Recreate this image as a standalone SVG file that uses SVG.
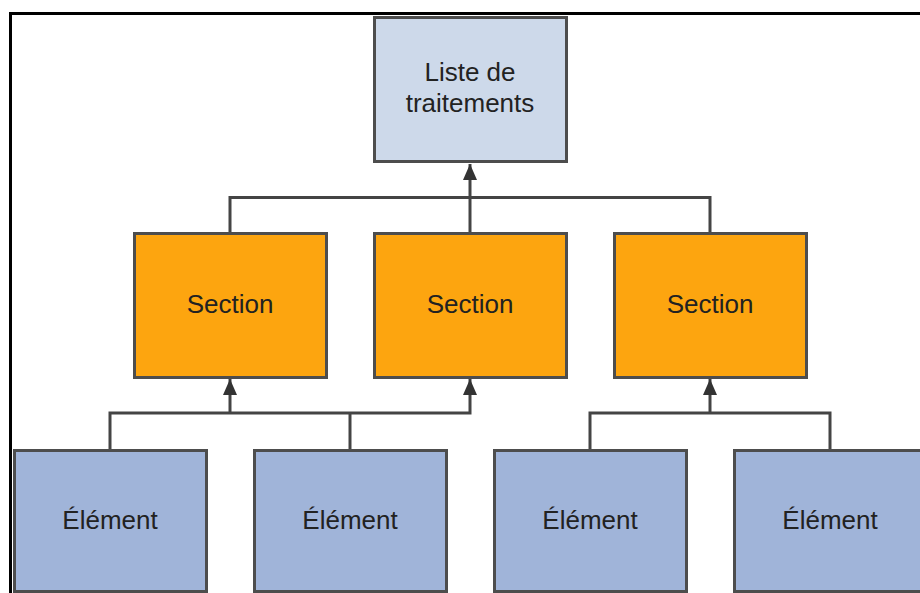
<svg xmlns="http://www.w3.org/2000/svg" width="920" height="593" viewBox="0 0 920 593">
<style>
.box{stroke:#4d4d4d;stroke-width:3}
.top{fill:#cdd9ea}
.sec{fill:#fda50f}
.el{fill:#a0b4d9}
.lbl{font-family:"Liberation Sans",Arial,sans-serif;font-size:26px;fill:#222;text-anchor:middle}
.con{fill:none;stroke:#444;stroke-width:3}
</style>
<defs>
<marker id="arr" markerUnits="userSpaceOnUse" markerWidth="16" markerHeight="18" refX="16" refY="7" orient="auto">
<path d="M0,0 L16,7 L0,14 Z" fill="#333"/>
</marker>
</defs>
<rect width="920" height="593" fill="#fff"/>
<path d="M10.5,600 V13.5 H930" fill="none" stroke="#000" stroke-width="3"/>
<g id="connectors">
<path class="con" d="M230,233 V197.5 H710 V233"/>
<path class="con" d="M470,233 V164" marker-end="url(#arr)"/>
<path class="con" d="M110,450 V413 H470 V379" marker-end="url(#arr)"/>
<path class="con" d="M230,413 V379" marker-end="url(#arr)"/>
<path class="con" d="M350,450 V413"/>
<path class="con" d="M590,450 V413 H830 V450"/>
<path class="con" d="M710,413 V379" marker-end="url(#arr)"/>
</g>
<g id="liste">
<rect class="box top" x="374.5" y="17.5" width="192" height="144"/>
<text class="lbl" x="470" y="81">Liste de</text>
<text class="lbl" x="470" y="112">traitements</text>
</g>
<g id="section1">
<rect class="box sec" x="134.5" y="233.5" width="192" height="144"/>
<text class="lbl" x="230" y="313">Section</text>
</g>
<g id="section2">
<rect class="box sec" x="374.5" y="233.5" width="192" height="144"/>
<text class="lbl" x="470" y="313">Section</text>
</g>
<g id="section3">
<rect class="box sec" x="614.5" y="233.5" width="192" height="144"/>
<text class="lbl" x="710" y="313">Section</text>
</g>
<g id="element1">
<rect class="box el" x="14.5" y="450.5" width="192" height="141"/>
<text class="lbl" x="110" y="529">Élément</text>
</g>
<g id="element2">
<rect class="box el" x="254.5" y="450.5" width="192" height="141"/>
<text class="lbl" x="350" y="529">Élément</text>
</g>
<g id="element3">
<rect class="box el" x="494.5" y="450.5" width="192" height="141"/>
<text class="lbl" x="590" y="529">Élément</text>
</g>
<g id="element4">
<rect class="box el" x="734.5" y="450.5" width="192" height="141"/>
<text class="lbl" x="830" y="529">Élément</text>
</g>
</svg>
